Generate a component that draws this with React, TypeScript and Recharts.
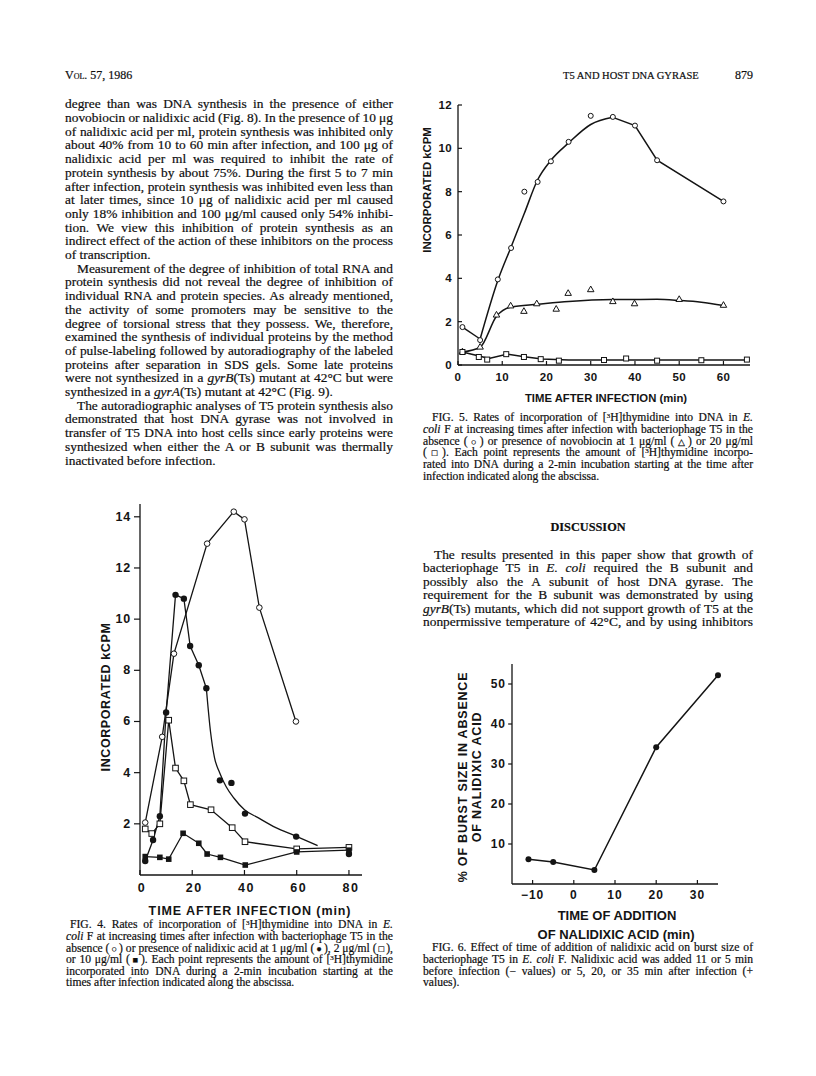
import React from "react";
import { ComposedChart, Line, Scatter, XAxis, YAxis } from "recharts";

// ---------- Fig. 5: novobiocin ----------
const f5CtlT = [1, 5, 9, 12, 15, 18, 21, 25, 30, 35, 40, 45, 60];
const f5CtlY = [1.75, 1.15, 3.95, 5.4, 8.0, 8.45, 9.4, 10.3, 11.5, 11.45, 11.05, 9.45, 7.55];
const f5N1T = [1, 5, 8.7, 11.9, 14.9, 17.8, 22.2, 24.9, 30, 35, 39.9, 50, 60];
const f5N1Y = [0.6, 0.82, 2.3, 2.72, 2.47, 2.82, 2.57, 3.3, 3.47, 2.92, 2.82, 3.02, 2.75];
const f5N20T = [1, 4.7, 6.6, 10.9, 14.9, 18.7, 22.8, 33, 38, 45, 55, 65.3];
const f5N20Y = [0.6, 0.37, 0.25, 0.5, 0.37, 0.27, 0.2, 0.23, 0.3, 0.2, 0.22, 0.25];
// hand-drawn curves
const f5CtlStartT = [1, 5];
const f5CtlStartY = [1.75, 1.2];
const f5CtlRiseT = [5, 9, 12, 15, 18, 21, 25, 30, 35];
const f5CtlRiseY = [1.2, 3.9, 5.45, 7.0, 8.55, 9.45, 10.25, 11.1, 11.43];
const f5CtlFallT = [35, 40, 45, 60];
const f5CtlFallY = [11.43, 11.05, 9.45, 7.55];
const f5N1CurveT = [1, 5, 8.7, 12, 18, 25, 35, 45, 50, 55, 60];
const f5N1CurveY = [0.6, 0.82, 2.25, 2.68, 2.8, 2.93, 3.02, 3.03, 2.98, 2.9, 2.75];
const f5N20CurveT = [1, 5, 7, 11, 15, 19, 25, 65];
const f5N20CurveY = [0.6, 0.4, 0.3, 0.5, 0.38, 0.28, 0.23, 0.23];
const f5XTicks = [0, 10, 20, 30, 40, 50, 60];
const f5YTicks = [0, 2, 4, 6, 8, 10, 12];

// ---------- Fig. 4: nalidixic acid ----------
const f4CtlT = [2, 8.5, 13, 25.7, 35.9, 40, 45.7, 59.7];
const f4CtlY = [2.05, 5.4, 8.65, 12.95, 14.2, 13.9, 10.45, 6.0];
const f4Nal1T = [2, 5, 7.6, 10, 13.6, 16.8, 19.2, 22.5, 25.4, 30.6, 35, 40.2, 59.8, 80];
const f4Nal1Y = [0.55, 1.37, 2.3, 6.35, 10.95, 10.8, 8.95, 8.2, 7.3, 3.7, 3.6, 2.4, 1.5, 0.82];
const f4Nal1JoinT = [2, 5, 7.6, 10, 13.6, 16.8, 19.2, 22.5, 25.4];
const f4Nal1JoinY = [0.55, 1.37, 2.3, 6.35, 10.95, 10.8, 8.95, 8.2, 7.3];
const f4Nal1CurveT = [25.4, 27, 28.5, 30.5, 33, 36, 40, 45, 52, 59, 68];
const f4Nal1CurveY = [7.3, 5.6, 4.6, 4.0, 3.45, 3.0, 2.55, 2.25, 1.85, 1.55, 1.15];
const f4Nal2T = [2, 4.5, 7.6, 11, 13.6, 16.8, 19.3, 27.2, 35.3, 40.2, 60, 80];
const f4Nal2Y = [1.8, 1.62, 2.0, 6.05, 4.18, 3.68, 2.75, 2.55, 1.85, 1.3, 1.02, 1.08];
const f4Nal10T = [2, 7.6, 11, 16.5, 22.5, 25.7, 30.8, 40.3, 60, 80];
const f4Nal10Y = [0.72, 0.69, 0.62, 1.63, 1.24, 0.82, 0.69, 0.39, 0.9, 0.97];
const f4XTicks = [0, 20, 40, 60, 80];
const f4YTicks = [2, 4, 6, 8, 10, 12, 14];

// ---------- Fig. 6: burst size ----------
const f6AddT = [-11, -5, 5, 20, 35];
const f6Burst = [6.2, 5.5, 3.5, 34.2, 52.2];
const f6XTicks = [-10, 0, 10, 20, 30];
const f6YTicks = [10, 20, 30, 40, 50];

const ink = "#141414";
const SERIF = "'Liberation Serif', 'Times New Roman', serif";
const SANS = "'Liberation Sans', Arial, Helvetica, sans-serif";

const zip = (xs: number[], ys: number[]) => xs.map((x, i) => ({ x, y: ys[i] }));

// markers
const openCircle = (r: number) => (p: any) => (
  <circle cx={p.cx} cy={p.cy} r={r} fill="#fff" stroke={ink} strokeWidth={1} />
);
const dot = (r: number) => (p: any) => <circle cx={p.cx} cy={p.cy} r={r} fill={ink} />;
const openSquare = (s: number) => (p: any) => (
  <rect x={p.cx - s / 2} y={p.cy - s / 2} width={s} height={s} fill="#fff" stroke={ink} strokeWidth={1} />
);
const solidSquare = (s: number) => (p: any) => (
  <rect x={p.cx - s / 2} y={p.cy - s / 2} width={s} height={s} fill={ink} />
);
const openTriangle = (s: number) => (p: any) => {
  const h = s * 0.87;
  const pts = `${p.cx},${p.cy - (h * 2) / 3} ${p.cx - s / 2},${p.cy + h / 3} ${p.cx + s / 2},${p.cy + h / 3}`;
  return <polygon points={pts} fill="#fff" stroke={ink} strokeWidth={1} />;
};

type TickOpts = { len: number; inward: boolean; gap: number; fs: number; ls?: number; dx?: number; fmt?: (v: number) => string };

const yTick = (o: TickOpts) => (p: any) => {
  const edge = p.x;
  const x2 = o.inward ? edge + o.len : edge - o.len;
  const tx = (o.inward ? edge : edge - o.len) - o.gap;
  const v = p.payload.value;
  return (
    <g>
      <line x1={edge} y1={p.y} x2={x2} y2={p.y} stroke={ink} strokeWidth={1.2} />
      <text x={tx} y={p.y} textAnchor="end" dominantBaseline="central" fill={ink} fontFamily={SANS} fontWeight={700} fontSize={o.fs} letterSpacing={o.ls ?? 0}>
        {o.fmt ? o.fmt(v) : v}
      </text>
    </g>
  );
};

const xTick = (o: TickOpts) => (p: any) => {
  const edge = p.y;
  const y2 = o.inward ? edge - o.len : edge + o.len;
  const v = p.payload.value;
  return (
    <g>
      <line x1={p.x} y1={edge} x2={p.x} y2={y2} stroke={ink} strokeWidth={1.2} />
      <text x={p.x + (o.dx ?? 0)} y={edge + o.gap} textAnchor="middle" dominantBaseline="central" fill={ink} fontFamily={SANS} fontWeight={700} fontSize={o.fs} letterSpacing={o.ls ?? 0}>
        {o.fmt ? o.fmt(v) : v}
      </text>
    </g>
  );
};

const axisLine = { stroke: ink, strokeWidth: 1.3 };

function Fig5() {
  return (
    <div style={{ position: "absolute", left: 400, top: 95 }}>
      <ComposedChart width={370} height={290} margin={{ top: 10, right: 20, bottom: 0, left: 0 }} style={{ overflow: "visible" }}>
        <XAxis type="number" dataKey="x" domain={[0, 66]} ticks={f5XTicks} interval={0} height={20} tickSize={0} tickMargin={0} tickLine={false} axisLine={axisLine} tick={xTick({ len: 4, inward: true, gap: 12, fs: 11.5, ls: 0.4 })} />
        <YAxis type="number" dataKey="y" domain={[0, 12]} ticks={f5YTicks} interval={0} width={58} tickSize={0} tickMargin={0} tickLine={false} axisLine={axisLine} tick={yTick({ len: 4, inward: true, gap: 6, fs: 11.5, ls: 0.4 })} />
        <Line data={zip(f5CtlStartT, f5CtlStartY)} dataKey="y" type="linear" stroke={ink} strokeWidth={1.5} dot={false} isAnimationActive={false} />
        <Line data={zip(f5CtlRiseT, f5CtlRiseY)} dataKey="y" type="monotone" stroke={ink} strokeWidth={1.5} dot={false} isAnimationActive={false} />
        <Line data={zip(f5CtlFallT, f5CtlFallY)} dataKey="y" type="linear" stroke={ink} strokeWidth={1.5} dot={false} isAnimationActive={false} />
        <Line data={zip(f5N1CurveT, f5N1CurveY)} dataKey="y" type="monotone" stroke={ink} strokeWidth={1.5} dot={false} isAnimationActive={false} />
        <Line data={zip(f5N20CurveT, f5N20CurveY)} dataKey="y" type="linear" stroke={ink} strokeWidth={1.5} dot={false} isAnimationActive={false} />
        <Scatter data={zip(f5CtlT, f5CtlY)} dataKey="y" shape={openCircle(2.5)} isAnimationActive={false} />
        <Scatter data={zip(f5N1T, f5N1Y)} dataKey="y" shape={openTriangle(6.5)} isAnimationActive={false} />
        <Scatter data={zip(f5N20T, f5N20Y)} dataKey="y" shape={openSquare(5)} isAnimationActive={false} />
      </ComposedChart>
    </div>
  );
}

function Fig4() {
  return (
    <div style={{ position: "absolute", left: 80, top: 494 }}>
      <ComposedChart width={292} height={406} margin={{ top: 10, right: 10, bottom: 0, left: 0 }} style={{ overflow: "visible" }}>
        <XAxis type="number" dataKey="x" domain={[0, 85]} ticks={f4XTicks} interval={0} height={25} tickSize={0} tickMargin={0} tickLine={false} axisLine={axisLine} tick={xTick({ len: 5, inward: true, gap: 13, fs: 12.5, ls: 1.5, dx: 2 })} />
        <YAxis type="number" dataKey="y" domain={[0, 14.5]} ticks={f4YTicks} interval={0} width={60} tickSize={0} tickMargin={0} tickLine={false} axisLine={axisLine} tick={yTick({ len: 6, inward: false, gap: 3, fs: 12.5, ls: 0.8 })} />
        <Line data={zip(f4CtlT, f4CtlY)} dataKey="y" type="linear" stroke={ink} strokeWidth={1.3} dot={false} isAnimationActive={false} />
        <Line data={zip(f4Nal1JoinT, f4Nal1JoinY)} dataKey="y" type="linear" stroke={ink} strokeWidth={1.3} dot={false} isAnimationActive={false} />
        <Line data={zip(f4Nal1CurveT, f4Nal1CurveY)} dataKey="y" type="monotone" stroke={ink} strokeWidth={1.3} dot={false} isAnimationActive={false} />
        <Line data={zip(f4Nal2T, f4Nal2Y)} dataKey="y" type="linear" stroke={ink} strokeWidth={1.3} dot={false} isAnimationActive={false} />
        <Line data={zip(f4Nal10T, f4Nal10Y)} dataKey="y" type="linear" stroke={ink} strokeWidth={1.3} dot={false} isAnimationActive={false} />
        <Scatter data={zip(f4CtlT, f4CtlY)} dataKey="y" shape={openCircle(2.8)} isAnimationActive={false} />
        <Scatter data={zip(f4Nal2T, f4Nal2Y)} dataKey="y" shape={openSquare(5.6)} isAnimationActive={false} />
        <Scatter data={zip(f4Nal10T, f4Nal10Y)} dataKey="y" shape={solidSquare(5.6)} isAnimationActive={false} />
        <Scatter data={zip(f4Nal1T, f4Nal1Y)} dataKey="y" shape={dot(3.2)} isAnimationActive={false} />
      </ComposedChart>
    </div>
  );
}

function Fig6() {
  return (
    <div style={{ position: "absolute", left: 452, top: 654 }}>
      <ComposedChart width={276} height={250} margin={{ top: 10, right: 10, bottom: 0, left: 0 }} style={{ overflow: "visible" }}>
        <XAxis type="number" dataKey="x" domain={[-15, 35]} ticks={f6XTicks} interval={0} height={20} tickSize={0} tickMargin={0} tickLine={false} axisLine={axisLine} tick={xTick({ len: 4, inward: true, gap: 11, fs: 12, ls: 1, fmt: (v) => (v < 0 ? `\u2212${-v}` : `${v}`) })} />
        <YAxis type="number" dataKey="y" domain={[0, 55]} ticks={f6YTicks} interval={0} width={60} tickSize={0} tickMargin={0} tickLine={false} axisLine={axisLine} tick={yTick({ len: 4, inward: false, gap: 2, fs: 12, ls: 1 })} />
        <Line data={zip(f6AddT, f6Burst)} dataKey="y" type="linear" stroke={ink} strokeWidth={1.5} dot={false} isAnimationActive={false} />
        <Scatter data={zip(f6AddT, f6Burst)} dataKey="y" shape={dot(3)} isAnimationActive={false} />
      </ComposedChart>
    </div>
  );
}

// ---------- text ----------
type Row = { t: React.ReactNode; end?: boolean; ind?: number };

const sup3 = <span style={{ fontSize: "0.6em", verticalAlign: "0.45em", lineHeight: 0 }}>3</span>;
const sym = (c: string) => <span style={{ fontSize: "0.8em", lineHeight: 0 }}>{c}</span>;
const mu = "\u03bc";

const leftRows: Row[] = [
  { t: "degree than was DNA synthesis in the presence of either" },
  { t: `novobiocin or nalidixic acid (Fig. 8). In the presence of 10 ${mu}g` },
  { t: "of nalidixic acid per ml, protein synthesis was inhibited only" },
  { t: `about 40% from 10 to 60 min after infection, and 100 ${mu}g of` },
  { t: "nalidixic acid per ml was required to inhibit the rate of" },
  { t: "protein synthesis by about 75%. During the first 5 to 7 min" },
  { t: "after infection, protein synthesis was inhibited even less than" },
  { t: `at later times, since 10 ${mu}g of nalidixic acid per ml caused` },
  { t: `only 18% inhibition and 100 ${mu}g/ml caused only 54% inhibi-` },
  { t: "tion. We view this inhibition of protein synthesis as an" },
  { t: "indirect effect of the action of these inhibitors on the process" },
  { t: "of transcription.", end: true },
  { t: "Measurement of the degree of inhibition of total RNA and", ind: 12 },
  { t: "protein synthesis did not reveal the degree of inhibition of" },
  { t: "individual RNA and protein species. As already mentioned," },
  { t: "the activity of some promoters may be sensitive to the" },
  { t: "degree of torsional stress that they possess. We, therefore," },
  { t: "examined the synthesis of individual proteins by the method" },
  { t: "of pulse-labeling followed by autoradiography of the labeled" },
  { t: "proteins after separation in SDS gels. Some late proteins" },
  { t: <>were not synthesized in a <i>gyrB</i>(Ts) mutant at 42°C but were</> },
  { t: <>synthesized in a <i>gyrA</i>(Ts) mutant at 42°C (Fig. 9).</>, end: true },
  { t: "The autoradiographic analyses of T5 protein synthesis also", ind: 12 },
  { t: "demonstrated that host DNA gyrase was not involved in" },
  { t: "transfer of T5 DNA into host cells since early proteins were" },
  { t: "synthesized when either the A or B subunit was thermally" },
  { t: "inactivated before infection.", end: true },
];

const fig5Rows: Row[] = [
  { t: <>FIG. 5. Rates of incorporation of [{sup3}H]thymidine into DNA in <i>E.</i></>, ind: 9 },
  { t: <><i>coli</i> F at increasing times after infection with bacteriophage T5 in the</> },
  { t: <>absence ({sym("\u25cb")}) or presence of novobiocin at 1 {mu}g/ml ({sym("\u25b3")}) or 20 {mu}g/ml</> },
  { t: <>({sym("\u25a1")}). Each point represents the amount of [{sup3}H]thymidine incorpo-</> },
  { t: "rated into DNA during a 2-min incubation starting at the time after" },
  { t: "infection indicated along the abscissa.", end: true },
];

const discussionRows: Row[] = [
  { t: "The results presented in this paper show that growth of", ind: 11 },
  { t: <>bacteriophage T5 in <i>E. coli</i> required the B subunit and</> },
  { t: "possibly also the A subunit of host DNA gyrase. The" },
  { t: "requirement for the B subunit was demonstrated by using" },
  { t: <><i>gyrB</i>(Ts) mutants, which did not support growth of T5 at the</> },
  { t: "nonpermissive temperature of 42°C, and by using inhibitors" },
];

const fig4Rows: Row[] = [
  { t: <>FIG. 4. Rates of incorporation of [{sup3}H]thymidine into DNA in <i>E.</i></>, ind: 4 },
  { t: <><i>coli</i> F at increasing times after infection with bacteriophage T5 in the</> },
  { t: <>absence ({sym("\u25cb")}) or presence of nalidixic acid at 1 {mu}g/ml ({sym("\u25cf")}), 2 {mu}g/ml ({sym("\u25a1")}),</> },
  { t: <>or 10 {mu}g/ml ({sym("\u25a0")}). Each point represents the amount of [{sup3}H]thymidine</> },
  { t: "incorporated into DNA during a 2-min incubation starting at the" },
  { t: "times after infection indicated along the abscissa.", end: true },
];

const fig6Rows: Row[] = [
  { t: "FIG. 6. Effect of time of addition of nalidixic acid on burst size of", ind: 9 },
  { t: <>bacteriophage T5 in <i>E. coli</i> F. Nalidixic acid was added 11 or 5 min</> },
  { t: "before infection (\u2212 values) or 5, 20, or 35 min after infection (+" },
  { t: "values).", end: true },
];

function Block({ x, w, y0, step, fs, rows }: { x: number; w: number; y0: number; step: number; fs: number; rows: Row[] }) {
  const off = step / 2 + 0.1135 * fs;
  return (
    <>
      {rows.map((r, i) => (
        <div
          key={i}
          style={{
            position: "absolute",
            left: x + (r.ind ?? 0),
            top: y0 + i * step - off,
            width: w - (r.ind ?? 0),
            height: step,
            fontSize: fs,
            lineHeight: `${step}px`,
            textAlign: "justify",
            textAlignLast: r.end ? "left" : "justify",
            wordSpacing: r.end ? 0 : -2,
          }}
        >
          {r.t}
        </div>
      ))}
    </>
  );
}

function AxisTitle({ cx, cy, fs, ls = 0, rotate = false, lh, children }: { cx: number; cy: number; fs: number; ls?: number; rotate?: boolean; lh?: number; children: React.ReactNode }) {
  return (
    <div
      style={{
        position: "absolute",
        left: cx,
        top: cy,
        transform: `translate(-50%, -50%)${rotate ? " rotate(-90deg)" : ""}`,
        whiteSpace: "nowrap",
        fontFamily: SANS,
        fontWeight: 700,
        fontSize: fs,
        letterSpacing: ls,
        lineHeight: lh ? `${lh}px` : "normal",
        textAlign: "center",
        color: ink,
        WebkitTextStroke: "0px",
      }}
    >
      {children}
    </div>
  );
}

export default function App() {
  return (
    <div style={{ position: "absolute", left: 0, top: 0, width: 816, height: 1076, background: "#fff", overflow: "hidden", fontFamily: SERIF, color: "#0e0e0e", WebkitTextStroke: "0.2px #0e0e0e" }}>
      {/* running heads */}
      <div style={{ position: "absolute", left: 65, top: 67, fontSize: 12, lineHeight: "16px" }}>
        <span style={{ fontVariant: "small-caps" }}>Vol.</span> 57, 1986
      </div>
      <div style={{ position: "absolute", left: 563, top: 68, fontSize: 10.5, lineHeight: "16px" }}>T5 AND HOST DNA GYRASE</div>
      <div style={{ position: "absolute", left: 700, width: 53, top: 67, fontSize: 12, lineHeight: "16px", textAlign: "right" }}>879</div>

      <Block x={65} w={328} y0={105.7} step={13.7} fs={13.4} rows={leftRows} />

      <Fig5 />
      <AxisTitle cx={427} cy={190} fs={11.3} rotate>INCORPORATED kCPM</AxisTitle>
      <AxisTitle cx={606} cy={398} fs={11.3}>TIME AFTER INFECTION (min)</AxisTitle>
      <Block x={423} w={330} y0={419.3} step={11.7} fs={11.6} rows={fig5Rows} />

      <div style={{ position: "absolute", left: 423, width: 330, top: 519, fontSize: 12.3, fontWeight: 700, lineHeight: "16px", textAlign: "center" }}>DISCUSSION</div>
      <Block x={423} w={330} y0={556} step={13.45} fs={13.4} rows={discussionRows} />

      <Fig4 />
      <AxisTitle cx={106} cy={697} fs={12.5} ls={0.6} rotate>INCORPORATED kCPM</AxisTitle>
      <AxisTitle cx={250} cy={911} fs={12.5} ls={0.9}>TIME AFTER INFECTION (min)</AxisTitle>
      <Block x={66} w={327} y0={926.6} step={11.6} fs={11.6} rows={fig4Rows} />

      <Fig6 />
      <AxisTitle cx={470} cy={777} fs={12.5} ls={0.8} lh={14} rotate>
        % OF BURST SIZE IN ABSENCE
        <br />
        OF NALIDIXIC ACID
      </AxisTitle>
      <AxisTitle cx={617} cy={915} fs={13}>TIME OF ADDITION</AxisTitle>
      <AxisTitle cx={616} cy={934} fs={13}>OF NALIDIXIC ACID (min)</AxisTitle>
      <Block x={423} w={330} y0={949.5} step={11.7} fs={11.6} rows={fig6Rows} />
    </div>
  );
}
